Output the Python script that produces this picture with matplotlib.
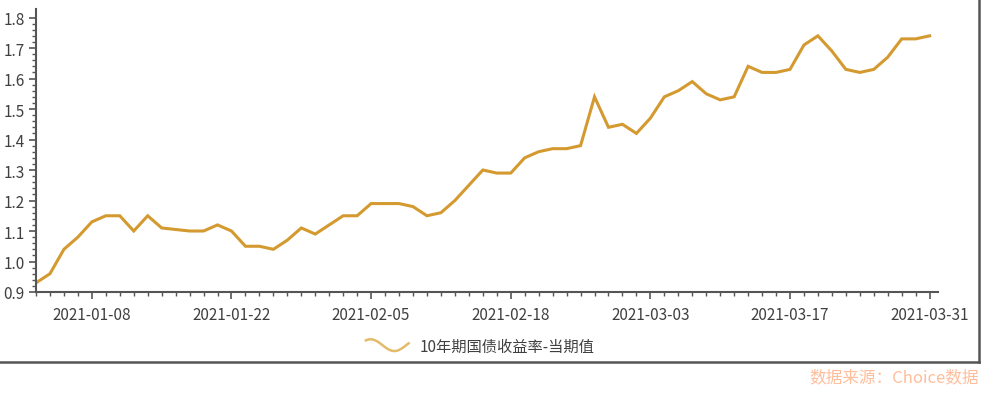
import numpy as np
import matplotlib
matplotlib.use("Agg")
import matplotlib.pyplot as plt
from matplotlib.lines import Line2D
from matplotlib.legend_handler import HandlerBase

plt.rcParams['font.family'] = ['Noto Sans CJK SC', 'DejaVu Sans']

# trading days (weekdays plus make-up days)
dates = ["2021-01-04", "2021-01-05", "2021-01-06", "2021-01-07", "2021-01-08",
         "2021-01-11", "2021-01-12", "2021-01-13", "2021-01-14", "2021-01-15",
         "2021-01-18", "2021-01-19", "2021-01-20", "2021-01-21", "2021-01-22",
         "2021-01-25", "2021-01-26", "2021-01-27", "2021-01-28", "2021-01-29",
         "2021-02-01", "2021-02-02", "2021-02-03", "2021-02-04", "2021-02-05",
         "2021-02-07", "2021-02-08", "2021-02-09", "2021-02-10", "2021-02-11",
         "2021-02-12", "2021-02-15", "2021-02-16", "2021-02-17", "2021-02-18",
         "2021-02-19", "2021-02-20", "2021-02-22", "2021-02-23", "2021-02-24",
         "2021-02-25", "2021-02-26", "2021-03-01", "2021-03-02", "2021-03-03",
         "2021-03-04", "2021-03-05", "2021-03-08", "2021-03-09", "2021-03-10",
         "2021-03-11", "2021-03-12", "2021-03-15", "2021-03-16", "2021-03-17",
         "2021-03-18", "2021-03-19", "2021-03-22", "2021-03-23", "2021-03-24",
         "2021-03-25", "2021-03-26", "2021-03-29", "2021-03-30", "2021-03-31"]

yields = [0.93, 0.96, 1.04, 1.08, 1.13, 1.15, 1.15, 1.10, 1.15, 1.11,
          1.105, 1.10, 1.10, 1.12, 1.10, 1.05, 1.05, 1.04, 1.07, 1.11,
          1.09, 1.12, 1.15, 1.15, 1.19, 1.19, 1.19, 1.18, 1.15, 1.16,
          1.20, 1.25, 1.30, 1.29, 1.29, 1.34, 1.36, 1.37, 1.37, 1.38,
          1.54, 1.44, 1.45, 1.42, 1.47, 1.54, 1.56, 1.59, 1.55, 1.53,
          1.54, 1.64, 1.62, 1.62, 1.63, 1.71, 1.74, 1.69, 1.63, 1.62,
          1.63, 1.67, 1.73, 1.73, 1.74]

series_name = "10年期国债收益率-当期值"
source_text = "数据来源：Choice数据"

line_color = "#D49A30"
axis_color = "#555555"
text_color = "#404040"


class WaveHandler(HandlerBase):
    # wavy legend key like the original
    def create_artists(self, legend, orig_handle, xdescent, ydescent,
                       width, height, fontsize, trans):
        t = np.linspace(0.3 * np.pi, 2.1 * np.pi, 40)
        xs = -xdescent + (t - t[0]) / (t[-1] - t[0]) * width
        ys = -ydescent + height / 2 + np.sin(t) * height * 0.55
        ln = Line2D(xs, ys, color="#E2BC6A", lw=1.8, transform=trans)
        return [ln]


fig = plt.figure(figsize=(9.94, 4.02), dpi=100)
ax = fig.add_axes([36 / 994, 109 / 402, 902 / 994, 283 / 402])

x = np.arange(len(yields))
line, = ax.plot(x, yields, color=line_color, lw=2.2, solid_joinstyle='miter')

ax.set_xlim(0, 64.6)
ax.set_ylim(0.9, 1.828)

major_idx = list(range(4, len(dates), 10))
ax.set_xticks(major_idx)
ax.set_xticklabels([dates[i] for i in major_idx])
ax.set_xticks(x, minor=True)
ax.set_yticks(np.arange(0.9, 1.81, 0.1))
ax.set_yticklabels(["%.1f" % v for v in np.arange(0.9, 1.81, 0.1)])
ax.set_yticks(np.arange(0.9, 1.82, 0.02), minor=True)

ax.tick_params(axis='both', which='major', length=5, width=1.2, color=axis_color,
               labelsize=11, labelcolor=text_color, direction='out')
ax.tick_params(axis='both', which='minor', length=3, width=1, color=axis_color,
               direction='out')
ax.tick_params(axis='x', which='major', pad=5)
ax.tick_params(axis='y', which='major', pad=3)

for s in ['top', 'right']:
    ax.spines[s].set_visible(False)
for s in ['left', 'bottom']:
    ax.spines[s].set_color(axis_color)
    ax.spines[s].set_linewidth(1.5)

fig.legend([line], [series_name], handler_map={Line2D: WaveHandler()},
           loc='center', bbox_to_anchor=(480 / 994, 1 - 347 / 402),
           frameon=False, fontsize=11, labelcolor=text_color,
           handlelength=2.8, handletextpad=0.7)

# outer frame (right and bottom edges)
fig.add_artist(Line2D([0, 979 / 994], [1 - 363 / 402, 1 - 363 / 402],
                      color=axis_color, lw=1.8, transform=fig.transFigure))
fig.add_artist(Line2D([979 / 994, 979 / 994], [1 - 363 / 402, 1.0],
                      color=axis_color, lw=1.8, transform=fig.transFigure))

fig.text(979 / 994, 1 - 378 / 402, source_text, ha='right', va='center',
         color="#FFBE9B", fontsize=12)

fig.savefig("out.png", dpi=100)
